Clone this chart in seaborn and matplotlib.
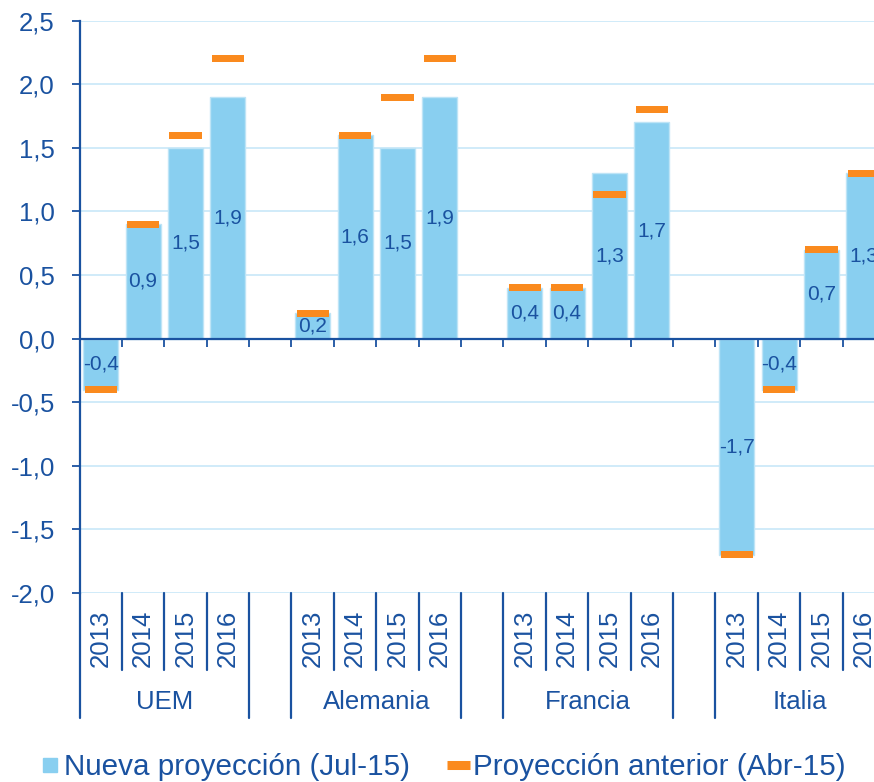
import numpy as np
import pandas as pd
import matplotlib
matplotlib.use("Agg")
import matplotlib.pyplot as plt
import seaborn as sns
from matplotlib.lines import Line2D
from matplotlib.transforms import blended_transform_factory

# Datos: crecimiento del PIB (%), proyección nueva vs. anterior
regiones = ["UEM", "Alemania", "Francia", "Italia"]
anios = ["2013", "2014", "2015", "2016"]

nueva_uem = [-0.4, 0.9, 1.5, 1.9]
nueva_alemania = [0.2, 1.6, 1.5, 1.9]
nueva_francia = [0.4, 0.4, 1.3, 1.7]
nueva_italia = [-1.7, -0.4, 0.7, 1.3]

anterior_uem = [-0.4, 0.9, 1.6, 2.2]
anterior_alemania = [0.2, 1.6, 1.9, 2.2]
anterior_francia = [0.4, 0.4, 1.13, 1.8]
anterior_italia = [-1.7, -0.4, 0.7, 1.3]

y_ticks = [-2.0, -1.5, -1.0, -0.5, 0.0, 0.5, 1.0, 1.5, 2.0, 2.5]

label_nueva = "Nueva proyección (Jul-15)"
label_anterior = "Proyección anterior (Abr-15)"

nueva = [nueva_uem, nueva_alemania, nueva_francia, nueva_italia]
anterior = [anterior_uem, anterior_alemania, anterior_francia, anterior_italia]

# Each region takes four slots plus one empty slot as separation
rows = []
for g, reg in enumerate(regiones):
    for i, yr in enumerate(anios):
        rows.append({"region": reg, "anio": yr, "slot": g * 5 + i,
                     "nueva": nueva[g][i], "anterior": anterior[g][i]})
df = pd.DataFrame(rows)

BLUE = "#89CFF0"
BLUE_EDGE = "#BEE4F6"
ORANGE = "#FA8A1E"
DARK = "#1A52A0"
GRID = "#C8E8F8"

sns.set_theme(style="white")
plt.rcParams["font.family"] = ["Liberation Sans", "DejaVu Sans"]
plt.rcParams["axes.unicode_minus"] = False

W, H = 874, 782
fig = plt.figure(figsize=(W / 100, H / 100), dpi=100)
ax_left, ax_top, ax_bottom = 79.5, 20.7, 593.0
slot_px = 42.4
n_slots = 19
ax = fig.add_axes([ax_left / W, 1 - ax_bottom / H,
                   n_slots * slot_px / W, (ax_bottom - ax_top) / H])

sns.barplot(data=df, x="slot", y="nueva", native_scale=True, width=0.83,
            color=BLUE, saturation=1, edgecolor=BLUE_EDGE, linewidth=1.0,
            errorbar=None, ax=ax, zorder=2)

# previous projection shown as a short thick dash
mark_h = 0.055
ax.bar(df["slot"], mark_h, bottom=df["anterior"] - mark_h / 2, width=0.755,
       color=ORANGE, linewidth=0, zorder=4)

ax.set_xlim(-0.5, n_slots - 0.5)
ax.set_ylim(-2.0, 2.5)
ax.set_xlabel("")
ax.set_ylabel("")
ax.set_xticks([])
ax.set_yticks(y_ticks)
ax.set_yticklabels([f"{v:.1f}".replace(".", ",") for v in y_ticks])
ax.tick_params(axis="y", length=5.8, width=1.3, color=DARK, pad=12,
               labelsize=18.5, labelcolor=DARK, left=True)
ax.yaxis.grid(True, color=GRID, linewidth=1.2)
ax.xaxis.grid(False)
ax.set_axisbelow(True)
for side in ["top", "right", "bottom"]:
    ax.spines[side].set_visible(False)
ax.spines["left"].set_color(DARK)
ax.spines["left"].set_linewidth(1.6)

# zero line with small ticks at slot boundaries
ax.axhline(0, color=DARK, linewidth=1.6, zorder=5)
bounds = np.arange(-0.5, n_slots, 1.0)
ax.vlines(bounds, -0.065, 0, color=DARK, linewidth=1.3, zorder=5)

# value labels centred inside bars
for _, r in df.iterrows():
    ax.text(r["slot"], r["nueva"] / 2, f"{r['nueva']:.1f}".replace(".", ","),
            ha="center", va="center", fontsize=15, color=DARK, zorder=6)

# two-level category axis below the plot
tr = blended_transform_factory(ax.transData, fig.transFigure)
group_edges = set()
for g in range(len(regiones)):
    group_edges.add(g * 5 - 0.5)
    group_edges.add(g * 5 + 3.5)
for b in bounds:
    end = 718 if b in group_edges else 670
    ax.add_line(Line2D([b, b], [1 - ax_bottom / H, 1 - end / H], transform=tr,
                       color=DARK, linewidth=1.6, clip_on=False))

for _, r in df.iterrows():
    ax.text(r["slot"], 1 - 638 / H, r["anio"], transform=tr, rotation=90,
            ha="center", va="center", fontsize=18.5, color=DARK, clip_on=False)
for g, reg in enumerate(regiones):
    ax.text(g * 5 + 1.5, 1 - 702 / H, reg, transform=tr, ha="center",
            va="center", fontsize=18.5, color=DARK, clip_on=False)

handles = [
    Line2D([], [], marker="s", markersize=10.5, color=BLUE, linestyle="none"),
    Line2D([0], [0], color=ORANGE, linewidth=6.5, solid_capstyle="butt"),
]
fig.legend(handles, [label_nueva, label_anterior], loc="center",
           bbox_to_anchor=(442 / W, 1 - 767 / H), ncol=2, frameon=False,
           fontsize=21.3, labelcolor=DARK, handlelength=0.77,
           handletextpad=0.1, columnspacing=1.25, borderpad=0)

fig.savefig("out.png", dpi=100)
